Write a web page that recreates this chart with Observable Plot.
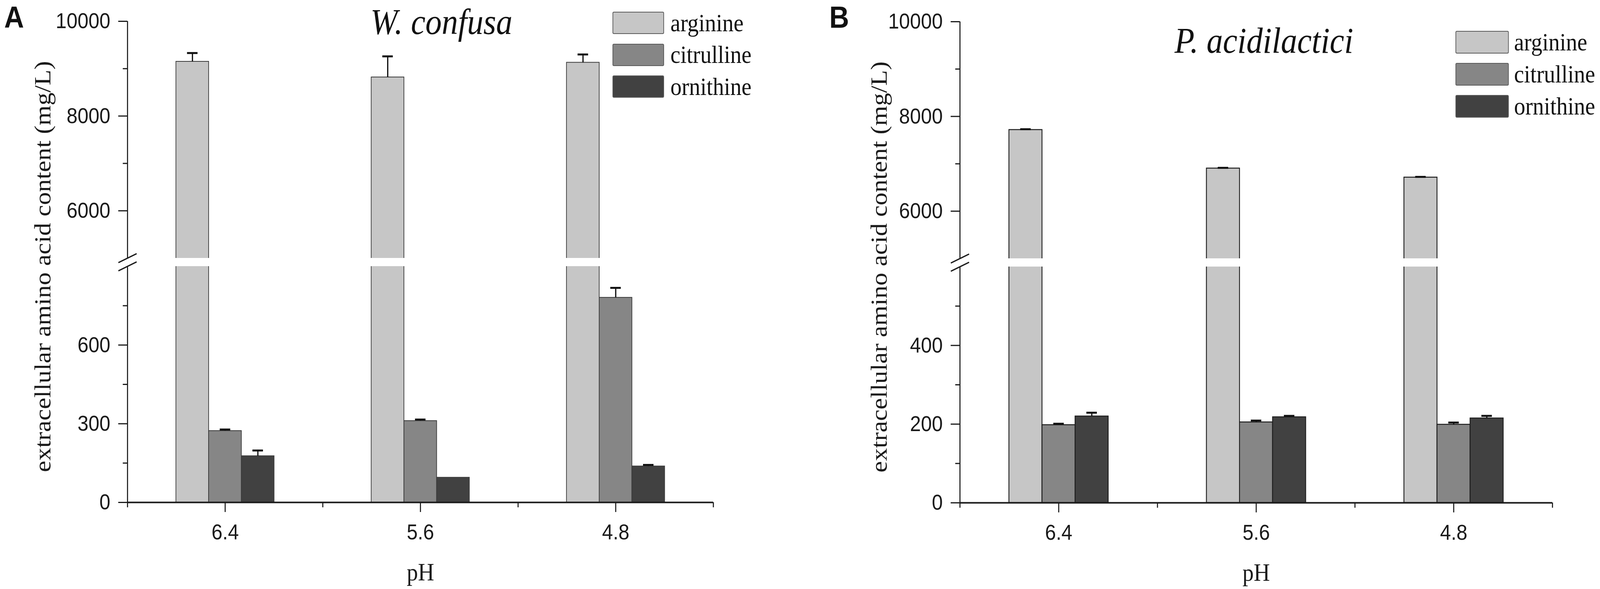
<!DOCTYPE html>
<html>
<head>
<meta charset="utf-8">
<script src="https://cdn.jsdelivr.net/npm/d3@7"></script>
<script src="https://cdn.jsdelivr.net/npm/@observablehq/plot@0.6"></script>
<style>
  html, body { margin: 0; padding: 0; background: #fff; overflow: hidden; width: 100vw; height: 100vh; }
  #stage { position: absolute; left: 0; top: 0; width: 4561px; height: 1507px; overflow: hidden; transform-origin: 0 0; background: #fff; }
  .panel { position: absolute; top: 0; }
  .abs { position: absolute; white-space: nowrap; line-height: 1; color: #111; }
  .letter { font-family: "Liberation Sans", Arial, sans-serif; font-weight: bold; font-size: 78px; }
  .title { font-family: "Liberation Serif", "Times New Roman", serif; font-style: italic; font-size: 93px; }
  .lrow { position: absolute; display: flex; align-items: center; }
  .swatch { box-sizing: border-box; border: 2px solid #5a5a5a; border-radius: 4px; }
  .ltext { font-family: "Liberation Serif", "Times New Roman", serif; font-size: 64px; line-height: 1; color: #111; white-space: nowrap; }
</style>
</head>
<body>
<div id="stage"></div>
<script>
// ---------- data ----------
const pH = ["6.4", "5.6", "4.8"];
const acids = ["arginine", "citrulline", "ornithine"];
const fills = ["#c6c6c6", "#868686", "#414141"];
const yLabel = "extracellular amino acid content (mg/L)";
const xLabel = "pH";

// Panel A: W. confusa
const wcArginine = [9150, 8820, 9130];
const wcArginineErr = [180, 440, 170];
const wcCitrulline = [273, 311, 781];
const wcCitrullineErr = [5, 5, 37];
const wcOrnithine = [177, 95, 138];
const wcOrnithineErr = [21, 0, 5];
const wcLowTicks = [0, 300, 600];
const wcLowMinor = [150, 450, 750];
const wcLowMax = 900;

// Panel B: P. acidilactici
const paArginine = [7718, 6905, 6714];
const paArginineErr = [12, 10, 10];
const paCitrulline = [198, 205, 199];
const paCitrullineErr = [3, 4, 5];
const paOrnithine = [220, 218, 215];
const paOrnithineErr = [9, 3, 6];
const paLowTicks = [0, 200, 400];
const paLowMinor = [100, 300, 500];
const paLowMax = 600;

// upper (broken) segment, shared
const highTicks = [6000, 8000, 10000];
const highMinor = [7000, 9000];
const highMin = 5000, highMax = 10000;

// ---------- broken-axis layout (segment lengths in y units) ----------
const L = 604, G = 21, U = 606;
function brokenY(lowMax) {
  return v => v <= lowMax ? v / lowMax * L : L + G + (v - highMin) / (highMax - highMin) * U;
}

const stage = document.getElementById("stage");
function fitStage() {
  const sx = window.innerWidth / 4561;
  const sy = window.innerHeight / 1507;
  stage.style.transform = `scale(${sx}, ${sy})`;
}
fitStage();
window.addEventListener("resize", fitStage);

function makePanel(cfg) {
  const f = brokenY(cfg.lowMax);
  const w = 0.1675;                     // bar width in x units (1 unit = one pH group)
  const pxX = cfg.innerWidth / 3;       // pixels per x unit
  const rows = [];
  cfg.series.forEach((s, j) => s.values.forEach((v, i) =>
    rows.push({i, j, acid: acids[j], v, e: s.errors[i]})));
  const cx = d => d.i + (d.j - 1) * w;
  const withErr = rows.filter(d => d.e > 0);
  const capHalf = 15 / pxX;

  const majorTicks = [...cfg.lowTicks, ...highTicks];
  const minorTicks = [...cfg.lowMinor, ...highMinor];
  const tickLabel = new Map(majorTicks.map(v => [f(v), String(v)]));

  const slashDx = 26 / pxX, slashDy = 11.5;
  const breakEdges = [f(cfg.lowMax), f(highMin)];

  return Plot.plot({
    width: cfg.width,
    height: 1507,
    marginLeft: cfg.marginLeft,
    marginRight: cfg.width - cfg.marginLeft - cfg.innerWidth,
    marginTop: cfg.marginTop,
    marginBottom: 1507 - cfg.marginTop - (L + G + U),
    x: {type: "linear", domain: [-0.5, 2.5], axis: null},
    y: {domain: [0, L + G + U], axis: null},
    color: {domain: acids, range: fills},
    style: {
      fontFamily: "'Liberation Sans', Arial, sans-serif",
      fontSize: "56px",
      color: "#1a1a1a",
      background: "white",
      overflow: "visible"
    },
    marks: [
      // bars
      Plot.rectY(rows, {
        x1: d => d.i + (d.j - 1.5) * w,
        x2: d => d.i + (d.j - 0.5) * w,
        y1: 0,
        y2: d => f(d.v),
        fill: "acid",
        stroke: cfg.barStroke,
        strokeWidth: cfg.barStrokeWidth
      }),
      // error bars (upper half only)
      Plot.ruleX(withErr, {x: cx, y1: d => f(d.v), y2: d => f(d.v + d.e), stroke: "#111", strokeWidth: 3.5}),
      Plot.ruleY(withErr, {y: d => f(d.v + d.e), x1: d => cx(d) - capHalf, x2: d => cx(d) + capHalf, stroke: "#111", strokeWidth: 5}),
      // y axis line
      Plot.ruleX([-0.5], {y1: 0, y2: L + G + U, stroke: "#1a1a1a", strokeWidth: 3}),
      // break gap
      Plot.rect([0], {x1: -0.5 - 4 / pxX, x2: 2.5, y1: breakEdges[0], y2: breakEdges[1], fill: "white"}),
      // break slashes
      Plot.link(breakEdges, {
        x1: -0.5 - slashDx, y1: d => d - slashDy,
        x2: -0.5 + slashDx, y2: d => d + slashDy,
        stroke: "#1a1a1a", strokeWidth: 3.5
      }),
      // y ticks
      Plot.axisY(majorTicks.map(f), {
        anchor: "left", tickSize: 26, tickPadding: 23, strokeWidth: 3,
        tickFormat: d => tickLabel.get(d), label: null, fontSize: 56
      }),
      Plot.axisY(minorTicks.map(f), {
        anchor: "left", tickSize: 13, strokeWidth: 3, tickFormat: () => "", label: null
      }),
      // x axis line and ticks
      Plot.ruleY([0], {x1: -0.5, x2: 2.5, stroke: "#1a1a1a", strokeWidth: 4}),
      Plot.axisX([0, 1, 2], {
        anchor: "bottom", tickSize: 25, tickPadding: 30, strokeWidth: 3,
        tickFormat: i => pH[i], label: null, fontSize: 56
      }),
      Plot.axisX([-0.5, 0.5, 1.5, 2.5], {
        anchor: "bottom", tickSize: 13, strokeWidth: 3, tickFormat: () => "", label: null
      }),
      // axis titles
      Plot.text([yLabel], {
        text: d => d, frameAnchor: "left", textAnchor: "middle", lineAnchor: "middle",
        rotate: -90, dx: -cfg.yLabelOffset, dy: 12,
        fontFamily: "'Liberation Serif', 'Times New Roman', serif", fontSize: 66, fill: "#1a1a1a"
      }),
      Plot.text([xLabel], {
        text: d => d, frameAnchor: "bottom", textAnchor: "middle", lineAnchor: "middle", dy: 179,
        fontFamily: "'Liberation Serif', 'Times New Roman', serif", fontSize: 64, fill: "#1a1a1a"
      })
    ]
  });
}

function addPanel(left, cfg, deco) {
  const div = document.createElement("div");
  div.className = "panel";
  div.style.left = left + "px";
  div.style.width = cfg.width + "px";
  div.appendChild(makePanel(cfg));
  stage.appendChild(div);

  const letter = document.createElement("div");
  letter.className = "abs letter";
  letter.textContent = deco.letter;
  letter.style.left = deco.letterLeft + "px";
  letter.style.top = "5px";
  stage.appendChild(letter);

  const title = document.createElement("div");
  title.className = "abs title";
  title.textContent = deco.title;
  title.style.left = deco.titleLeft + "px";
  title.style.top = deco.titleTop + "px";
  stage.appendChild(title);

  acids.forEach((a, k) => {
    const row = document.createElement("div");
    row.className = "lrow";
    row.style.left = deco.legendLeft + "px";
    row.style.top = (deco.legendTop + k * deco.legendStep) + "px";
    row.style.height = deco.boxH + "px";
    const sw = document.createElement("div");
    sw.className = "swatch";
    sw.style.width = deco.boxW + "px";
    sw.style.height = deco.boxH + "px";
    sw.style.background = fills[k];
    const tx = document.createElement("span");
    tx.className = "ltext";
    tx.style.marginLeft = deco.textGap + "px";
    tx.textContent = a;
    row.appendChild(sw);
    row.appendChild(tx);
    stage.appendChild(row);
  });
}

addPanel(0, {
  width: 2280, marginLeft: 363, innerWidth: 1670, marginTop: 54,
  lowMax: wcLowMax, lowTicks: wcLowTicks, lowMinor: wcLowMinor,
  yLabelOffset: 241, barStroke: "#3a3a3a", barStrokeWidth: 2,
  series: [
    {values: wcArginine, errors: wcArginineErr},
    {values: wcCitrulline, errors: wcCitrullineErr},
    {values: wcOrnithine, errors: wcOrnithineErr}
  ]
}, {
  letter: "A", letterLeft: 12, title: "W. confusa", titleLeft: 1056, titleTop: 9,
  legendLeft: 1746, legendTop: 30, legendStep: 81.5, boxW: 147, boxH: 57, textGap: 18
});

addPanel(2280, {
  width: 2281, marginLeft: 456, innerWidth: 1689, marginTop: 55,
  lowMax: paLowMax, lowTicks: paLowTicks, lowMinor: paLowMinor,
  yLabelOffset: 230, barStroke: "#1e1e1e", barStrokeWidth: 2.5,
  series: [
    {values: paArginine, errors: paArginineErr},
    {values: paCitrulline, errors: paCitrullineErr},
    {values: paOrnithine, errors: paOrnithineErr}
  ]
}, {
  letter: "B", letterLeft: 2364, title: "P. acidilactici", titleLeft: 3348, titleTop: 57,
  legendLeft: 4149, legendTop: 79, legendStep: 82, boxW: 152, boxH: 58, textGap: 15
});
</script>
</body>
</html>
